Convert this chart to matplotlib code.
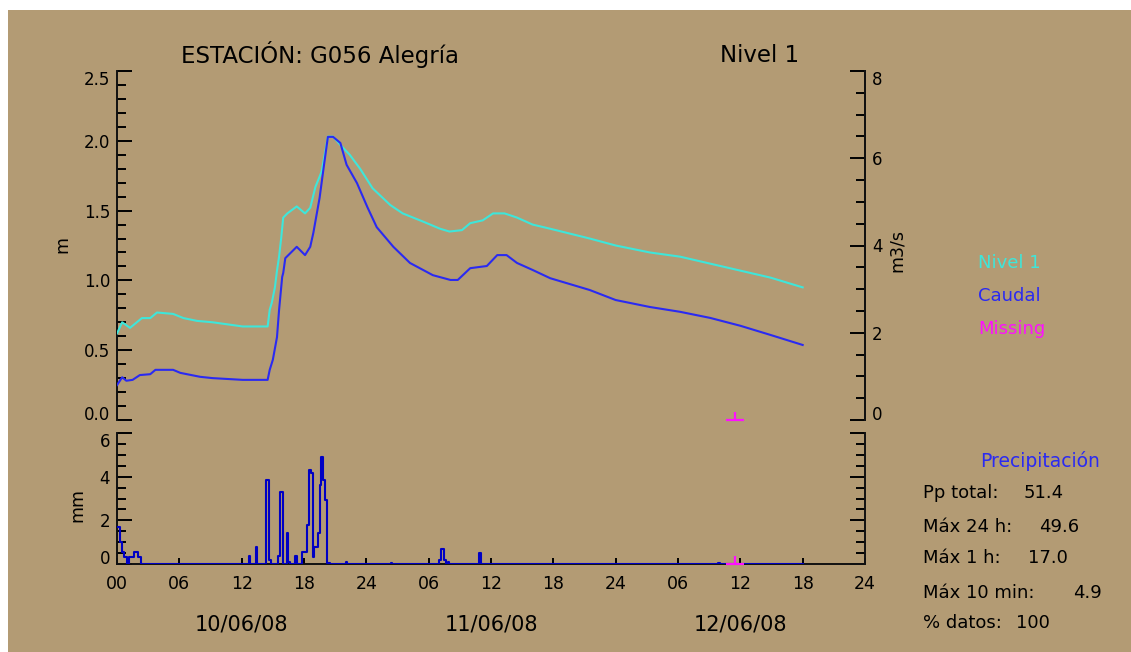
import numpy as np
import matplotlib
matplotlib.use("Agg")
import matplotlib.pyplot as plt
from matplotlib.patches import Rectangle
from matplotlib.ticker import MultipleLocator, FormatStrFormatter, FixedLocator, FixedFormatter
import matplotlib.transforms as mtransforms

# level (m), hours since 10/06/08 00:00
nivel_t = [0.0, 0.5, 1.25, 2.4, 3.2, 3.85, 5.4, 6.4, 7.7, 9.2, 12.1, 14.5, 14.7, 14.9, 15.2, 15.4,
           15.6, 15.8, 16.0, 16.4, 17.3, 18.1, 18.6, 19.1, 19.7, 20.3, 20.8, 21.5, 22.4, 23.4, 24.6,
           26.3, 27.5, 29.5, 31.1, 32.0, 33.2, 34.0, 35.2, 36.2, 37.3, 38.5, 40.0, 41.7, 45.5, 48.0,
           51.3, 54.2, 57.1, 60.0, 62.9, 66.0]
nivel_m = [0.62, 0.70, 0.66, 0.73, 0.73, 0.77, 0.76, 0.73, 0.71, 0.70, 0.67, 0.67, 0.79, 0.84, 0.95, 1.07,
           1.17, 1.30, 1.45, 1.48, 1.53, 1.48, 1.52, 1.67, 1.78, 2.03, 2.03, 1.97, 1.90, 1.80, 1.66,
           1.54, 1.48, 1.42, 1.37, 1.35, 1.36, 1.41, 1.43, 1.48, 1.48, 1.45, 1.40, 1.37, 1.30, 1.25,
           1.20, 1.17, 1.12, 1.07, 1.02, 0.95]

# discharge (m3/s)
caudal_t = [0.0, 0.5, 0.9, 1.5, 2.2, 3.2, 3.7, 5.4, 6.1, 8.0, 9.2, 12.1, 14.5, 14.7, 15.0, 15.4, 15.6,
            15.9, 16.0, 16.2, 17.3, 18.1, 18.6, 18.9, 19.5, 19.9, 20.3, 20.8, 21.5, 22.1, 23.1, 24.1,
            25.0, 26.6, 28.2, 30.4, 32.1, 32.8, 34.0, 35.6, 36.6, 37.5, 38.5, 40.0, 41.7, 45.5, 48.0,
            51.3, 54.2, 57.1, 60.0, 62.9, 66.0]
caudal_q = [0.80, 0.98, 0.90, 0.92, 1.03, 1.05, 1.15, 1.15, 1.08, 0.99, 0.96, 0.92, 0.92, 1.15, 1.38, 1.90,
            2.52, 3.28, 3.37, 3.71, 3.97, 3.78, 3.97, 4.29, 5.09, 5.80, 6.49, 6.49, 6.35, 5.85, 5.43, 4.88,
            4.42, 3.97, 3.60, 3.32, 3.21, 3.21, 3.48, 3.53, 3.78, 3.78, 3.60, 3.44, 3.25, 2.98, 2.75,
            2.59, 2.48, 2.34, 2.16, 1.95, 1.72]

# 10-minute precipitation (mm), start hour of each non-zero interval
precip_t = [0.0, 0.17, 0.33, 0.5, 0.67, 0.83, 1.17, 1.33, 1.5, 1.67, 1.83, 2.0, 2.17,
            12.67, 13.33, 14.33, 14.5, 14.67, 15.5, 15.67, 15.83, 16.33, 16.5, 17.17,
            17.83, 18.0, 18.17, 18.33, 18.5, 18.67, 18.83, 19.0, 19.17, 19.33, 19.5, 19.67,
            19.83, 20.0, 20.17, 20.33, 22.0, 26.33, 31.0, 31.17, 31.33, 31.5, 31.83, 34.83, 57.83]
precip_mm = [1.7, 1.7, 1.0, 0.55, 0.3, 0.3, 0.3, 0.3, 0.3, 0.55, 0.55, 0.3, 0.3,
             0.35, 0.8, 3.85, 3.85, 0.2, 0.35, 3.3, 3.3, 1.4, 0.1, 0.37,
             0.55, 0.55, 0.55, 1.8, 4.3, 4.15, 0.3, 0.8, 0.8, 1.4, 3.6, 4.9,
             3.85, 2.95, 0.05, 0.05, 0.08, 0.05, 0.2, 0.68, 0.68, 0.2, 0.08, 0.52, 0.05]

missing_t = [59.5]

hour_ticks = list(range(0, 73, 6))
hour_labels = ["00", "06", "12", "18", "24", "06", "12", "18", "24", "06", "12", "18", "24"]
day_labels = ["10/06/08", "11/06/08", "12/06/08"]
day_pos = [12, 36, 60]
nivel_ticks = [0.0, 0.5, 1.0, 1.5, 2.0, 2.5]
caudal_ticks = [0, 2, 4, 6, 8]
pp_ticks = [0, 2, 4, 6]

stat_names = ["Pp total:", "Máx 24 h:", "Máx 1 h:", "Máx 10 min:", "% datos:"]
stat_values = ["51.4", "49.6", "17.0", "4.9", "100"]

# colours
bg = "#b39b74"
c_nivel = "#3ee6da"
c_caudal = "#2a2af2"
c_pp = "#0000c4"
c_miss = "#ff10ff"

W, H = 1131, 652
fig = plt.figure(figsize=(W / 100, H / 100), dpi=100, facecolor="white")
fig.patches.append(Rectangle((8 / W, 0), 1 - 8 / W, 1 - 10 / H, transform=fig.transFigure,
                             facecolor=bg, edgecolor="none", zorder=-10))
plt.rcParams["font.family"] = ["DejaVu Sans"]


def px(x, y):
    return x / W, 1 - y / H


L, R = 117 / W, 865 / W
ax = fig.add_axes([L, 1 - 420 / H, R - L, (420 - 71) / H])
ax_pp = fig.add_axes([L, 1 - 564 / H, R - L, (564 - 433) / H])
ax2 = ax.twinx()
for a in (ax, ax_pp, ax2):
    a.set_facecolor("none")
    for s in a.spines.values():
        s.set_linewidth(1.4)
        s.set_color("#111111")

# upper panel: level and discharge
ax.plot(nivel_t, nivel_m, color=c_nivel, lw=1.5, zorder=3)
ax2.plot(caudal_t, caudal_q, color=c_caudal, lw=1.5, zorder=3)
ax.set_xlim(0, 72)
ax.set_ylim(0, 2.5)
ax2.set_ylim(0, 8)
ax.plot(missing_t, [0], marker="_", ms=13, mew=1.6, color=c_miss, clip_on=False, zorder=5)
ax.plot(missing_t, [0], marker=2, ms=6, mew=1.6, color=c_miss, clip_on=False, zorder=5)

for a in (ax, ax2):
    a.spines["top"].set_visible(False)
    a.spines["bottom"].set_visible(False)
    a.tick_params(axis="x", bottom=False, top=False, labelbottom=False)
ax2.spines["left"].set_visible(False)

ax.yaxis.set_major_locator(FixedLocator(nivel_ticks))
ax.yaxis.set_minor_locator(MultipleLocator(0.1))
ax.yaxis.set_major_formatter(FormatStrFormatter("%.1f"))
ax.tick_params(axis="y", which="major", direction="in", length=11, width=1.4, labelsize=12, pad=5)
ax.tick_params(axis="y", which="minor", direction="in", length=6.5, width=1.4)

ax2.yaxis.set_major_locator(FixedLocator(caudal_ticks))
ax2.yaxis.set_minor_locator(MultipleLocator(0.5))
ax2.yaxis.set_major_formatter(FormatStrFormatter("%d"))
ax2.tick_params(axis="y", which="major", direction="in", length=11, width=1.4, labelsize=12, pad=5)
ax2.tick_params(axis="y", which="minor", direction="in", length=6.5, width=1.4)

# lower panel: precipitation as 10-minute steps
grid = np.arange(0, 66 + 1e-9, 1 / 6)
pp = np.zeros(len(grid))
for t, v in zip(precip_t, precip_mm):
    pp[int(round(t * 6))] = v
ax_pp.step(grid, pp, where="post", color=c_pp, lw=1.5, zorder=3)
ax_pp.plot(missing_t, [0], marker="_", ms=13, mew=1.6, color=c_miss, clip_on=False, zorder=5)
ax_pp.plot(missing_t, [0], marker=2, ms=6, mew=1.6, color=c_miss, clip_on=False, zorder=5)
ax_pp.set_xlim(0, 72)
ax_pp.set_ylim(0, 6)
ax_pp.spines["top"].set_visible(False)

ax_pp.xaxis.set_major_locator(FixedLocator(hour_ticks))
ax_pp.xaxis.set_major_formatter(FixedFormatter(hour_labels))
ax_pp.tick_params(axis="x", direction="in", length=4, width=1.4, labelsize=12.5, pad=8)
ax_pp.yaxis.set_major_locator(FixedLocator(pp_ticks))
ax_pp.yaxis.set_minor_locator(MultipleLocator(0.5))
ax_pp.yaxis.set_major_formatter(FormatStrFormatter("%d"))
ax_pp.tick_params(axis="y", which="major", direction="in", length=11, width=1.4, labelsize=12,
                  pad=5, right=True)
ax_pp.tick_params(axis="y", which="minor", direction="in", length=6.5, width=1.4, right=True)

# end labels sit inside the axis range, like the original
for a, lab in ((ax, "label1"), (ax2, "label2"), (ax_pp, "label1")):
    ticks = a.yaxis.get_major_ticks()
    getattr(ticks[0], lab).set_va("baseline")
    getattr(ticks[-1], lab).set_va("top")

trans = mtransforms.blended_transform_factory(ax_pp.transData, fig.transFigure)
for d, lab in zip(day_pos, day_labels):
    ax_pp.text(d, 1 - 625 / H, lab, transform=trans, ha="center", va="center", fontsize=15)

# titles and axis names
fig.text(*px(181, 55), "ESTACIÓN: G056 Alegría", fontsize=16.5, ha="left", va="center")
fig.text(*px(720, 55), "Nivel 1", fontsize=16.5, ha="left", va="center")
fig.text(*px(62, 245), "m", fontsize=12.5, rotation=90, ha="center", va="center")
fig.text(*px(77, 505), "mm", fontsize=12.5, rotation=90, ha="center", va="center")
fig.text(*px(897, 250), "m3/s", fontsize=12.5, rotation=90, ha="center", va="center")

# legend entries
fig.text(*px(978, 263), "Nivel 1", color=c_nivel, fontsize=13, va="center")
fig.text(*px(978, 296), "Caudal", color=c_caudal, fontsize=13, va="center")
fig.text(*px(978, 329), "Missing", color=c_miss, fontsize=13, va="center")

# precipitation summary
fig.text(*px(980, 461), "Precipitación", color=c_caudal, fontsize=13.5, va="center")
stat_y = [493, 527, 558, 593, 623]
stat_x = [1024, 1039, 1028, 1073, 1016]
for name, val, y, x in zip(stat_names, stat_values, stat_y, stat_x):
    fig.text(*px(923, y), name, fontsize=13, va="center")
    fig.text(*px(x, y), val, fontsize=13, va="center")

fig.savefig("out.png", dpi=100, facecolor="white")
